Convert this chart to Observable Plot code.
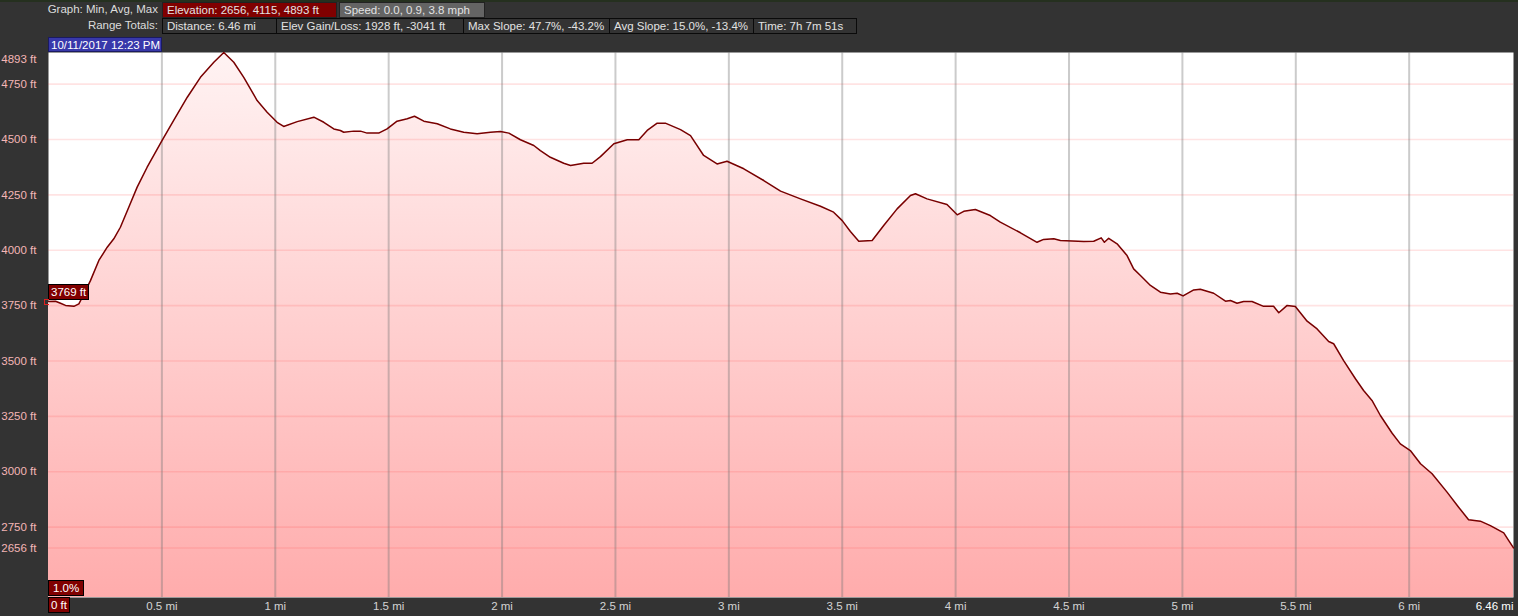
<!DOCTYPE html>
<html><head><meta charset="utf-8">
<script src="https://cdn.jsdelivr.net/npm/d3@7"></script>
<script src="https://cdn.jsdelivr.net/npm/@observablehq/plot@0.6"></script>
<style>
html,body{margin:0;padding:0;background:#333333;width:1518px;height:616px;overflow:hidden;font-family:"Liberation Sans",Arial,sans-serif;font-size:11.5px;}
#wrap{position:relative;width:1518px;height:616px;}
#topstrip{position:absolute;left:0;top:0;width:1518px;height:2px;background:#25301f;}
#header{position:relative;height:50px;}
.lbl{position:absolute;color:#dcdcdc;text-align:right;white-space:nowrap;line-height:15px;}
.box{position:absolute;box-sizing:border-box;height:16px;line-height:14px;padding-left:4px;color:#e2e2e2;white-space:nowrap;border:1px solid #111;}
.tag{position:absolute;box-sizing:border-box;height:16px;line-height:14px;padding:0 2px;color:#fff;background:#800000;border:1px solid #000;white-space:nowrap;}
#chart{position:absolute;left:0;top:50px;}
</style>
</head><body>
<div id="wrap">
<div id="topstrip"></div>
<div id="header"></div>
<div id="chart"></div>
</div>
<script>
// ---- data ----
const miles = [0,0.031,0.053,0.075,0.112,0.134,0.149,0.185,0.222,0.259,
0.288,0.317,0.354,0.391,0.435,0.501,0.552,0.612,0.670,0.729,
0.773,0.817,0.861,0.920,0.964,1.008,1.037,1.097,1.170,1.214,
1.258,1.287,1.302,1.346,1.376,1.405,1.456,1.493,1.537,1.582,
1.614,1.655,1.714,1.772,1.831,1.890,1.949,1.993,2.030,2.081,
2.140,2.169,2.213,2.272,2.302,2.360,2.397,2.434,2.493,2.552,
2.603,2.640,2.684,2.720,2.787,2.831,2.889,2.948,2.992,3.066,
3.154,3.228,3.316,3.404,3.462,3.500,3.536,3.573,3.632,3.683,
3.742,3.801,3.823,3.874,3.962,4.007,4.036,4.087,4.153,4.197,
4.286,4.359,4.388,4.433,4.462,4.565,4.609,4.642,4.656,4.675,
4.712,4.756,4.785,4.815,4.859,4.903,4.947,4.977,5.003,5.050,
5.079,5.138,5.190,5.212,5.241,5.270,5.307,5.358,5.402,5.425,
5.462,5.498,5.550,5.594,5.645,5.667,5.711,5.763,5.799,5.836,
5.873,5.925,5.961,6.005,6.050,6.101,6.167,6.218,6.262,6.314,
6.358,6.417,6.439,6.46];
const elevation = [3769,3770,3761,3751,3747,3758,3788,3863,3954,4014,
4052,4104,4194,4285,4375,4496,4586,4691,4781,4849,
4893,4849,4781,4676,4623,4578,4559,4581,4601,4578,
4548,4541,4533,4538,4538,4529,4529,4548,4583,4594,
4605,4583,4571,4548,4533,4526,4533,4536,4529,4499,
4473,4450,4420,4393,4383,4393,4393,4423,4481,4499,
4499,4541,4574,4574,4545,4518,4428,4390,4402,4368,
4315,4267,4232,4199,4172,4134,4085,4041,4044,4112,
4187,4247,4255,4232,4207,4160,4176,4184,4157,4127,
4079,4036,4049,4052,4044,4040,4041,4056,4036,4054,
4029,3976,3916,3886,3841,3811,3803,3806,3794,3821,
3824,3806,3770,3773,3761,3769,3769,3747,3747,3718,
3751,3746,3680,3645,3588,3578,3502,3420,3367,3322,
3254,3174,3126,3096,3036,2991,2908,2840,2783,2777,
2757,2724,2689,2656];
const yTicks = [4750,4500,4250,4000,3750,3500,3250,3000,2750,2656];
const yMaxLabel = 4893;
const xTicks = [0.5,1,1.5,2,2.5,3,3.5,4,4.5,5,5.5,6];
const totalDistance = 6.46;
const cursorElevation = 3769;
const row1Label = "Graph: Min, Avg, Max";
const row1Boxes = ["Elevation: 2656, 4115, 4893 ft", "Speed: 0.0, 0.9, 3.8 mph"];
const row2Label = "Range Totals:";
const row2Boxes = ["Distance: 6.46 mi", "Elev Gain/Loss: 1928 ft, -3041 ft", "Max Slope: 47.7%, -43.2%", "Avg Slope: 15.0%, -13.4%", "Time: 7h 7m 51s"];
const dateLabel = "10/11/2017 12:23 PM";
const slopeLabel = "1.0%";
const zeroLabel = "0 ft";

// ---- header (html) ----
const header = document.getElementById("header");
function addEl(parent, cls, text, style) {
  const d = document.createElement("div");
  d.className = cls; d.textContent = text;
  Object.assign(d.style, style);
  parent.appendChild(d); return d;
}
addEl(header, "lbl", row1Label, {left:"0px", width:"158px", top:"2px"});
const r1x = [162, 339], r1w = [175, 146], r1bg = ["#800000", "#646464"];
row1Boxes.forEach((t,i) => addEl(header, "box", t, {left:r1x[i]+"px", top:"2px", width:r1w[i]+"px", background:r1bg[i], borderColor:"#222"}));
addEl(header, "lbl", row2Label, {left:"0px", width:"158px", top:"18px"});
const r2x = [162, 276, 463, 609, 753, 856];
row2Boxes.forEach((t,i) => addEl(header, "box", t, {left:r2x[i]+"px", top:"18px", width:(r2x[i+1]-r2x[i]+1)+"px", background:"#333333", borderColor:"#0a0a0a"}));
addEl(header, "box", dateLabel, {left:"48px", top:"37px", width:"114px", height:"15px", background:"#3838aa", borderColor:"#1a1a60", color:"#ffffff", paddingLeft:"2px"});

// ---- chart ----
const data = miles.map((m,i) => ({mi: m, ft: elevation[i]}));
const yMin = d3.min(elevation), yMax = d3.max(elevation);
const yLow = yMin - 0.1 * (yMax - yMin);
const W = 1518, H = 566, mT = 2, mB = 19, mL = 48, mR = 5;

const chart = Plot.plot({
  width: W, height: H,
  marginTop: mT, marginBottom: mB, marginLeft: mL, marginRight: mR,
  style: {background: "transparent", fontFamily: "'Liberation Sans', Arial, sans-serif", fontSize: "11.5px", overflow: "visible"},
  x: {domain: [0, totalDistance], label: null},
  y: {domain: [yLow, yMax], label: null},
  marks: [
    Plot.frame({fill: "white", stroke: "none"}),
    Plot.areaY(data, {x: "mi", y1: yLow, y2: "ft", fill: "url(#elevGrad)"}),
    Plot.ruleY(yTicks, {stroke: "#ff3c3c", strokeOpacity: 0.14, strokeWidth: 1.6}),
    Plot.ruleX(xTicks, {stroke: "#777777", strokeOpacity: 0.38, strokeWidth: 2}),
    Plot.lineY(data, {x: "mi", y: "ft", stroke: "#780000", strokeWidth: 1.5}),
    Plot.axisY(yTicks, {tickSize: 0, tickPadding: 12, tickFormat: d => `${d} ft`, color: "#f4b6b6", fontSize: 11.5, label: null}),
    Plot.text([yMaxLabel], {y: d => d, frameAnchor: "left", dx: -12, dy: 7, textAnchor: "end", text: d => `${d} ft`, fill: "#f4b6b6", fontSize: 11.5}),
    Plot.axisX(xTicks, {tickSize: 0, tickPadding: 4, tickFormat: d => `${d} mi`, color: "#d4d4d4", fontSize: 11.5, label: null}),
    Plot.text([totalDistance], {x: d => d, frameAnchor: "bottom", lineAnchor: "top", dy: 4, textAnchor: "end", text: d => `${d} mi`, fill: "#ffffff", fontSize: 11.5})
  ]
});
const svg = d3.select(chart.tagName.toLowerCase() === "svg" ? chart : chart.querySelector("svg"));
const defs = svg.insert("defs", ":first-child");
const g = defs.append("linearGradient").attr("id", "elevGrad").attr("gradientUnits", "userSpaceOnUse")
  .attr("x1", 0).attr("x2", 0).attr("y1", mT).attr("y2", H - mB);
g.append("stop").attr("offset", "0%").attr("stop-color", "#fff3f3");
g.append("stop").attr("offset", "100%").attr("stop-color", "#ffacac");
document.getElementById("chart").appendChild(chart);

// ---- tags positioned via the chart scales ----
const wrap = document.getElementById("wrap");
const ys = chart.scale("y"), xs = chart.scale("x");
const top0 = 50;
const cy = top0 + ys.apply(cursorElevation);
addEl(wrap, "tag", `${cursorElevation} ft`, {left: xs.apply(0) + "px", top: (cy - 17) + "px"});
const bracket = document.createElement("div");
Object.assign(bracket.style, {position:"absolute", left:(xs.apply(0)-4)+"px", top:(cy-2)+"px", width:"5px", height:"6px", border:"1px solid #e02020", borderRight:"none", boxSizing:"border-box"});
wrap.appendChild(bracket);
const bottomY = top0 + ys.apply(yLow);
addEl(wrap, "tag", slopeLabel, {left: xs.apply(0) + "px", top: (bottomY - 17) + "px", padding: "0 4px"});
addEl(wrap, "tag", zeroLabel, {left: xs.apply(0) + "px", top: (bottomY) + "px"});
</script>
</body></html>
